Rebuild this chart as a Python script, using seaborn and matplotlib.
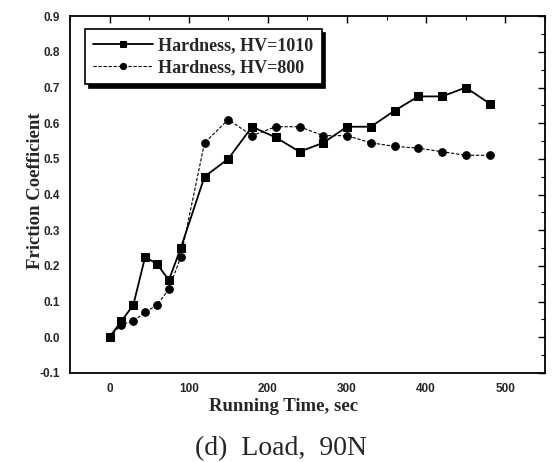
import matplotlib
matplotlib.use("Agg")
import matplotlib.pyplot as plt
import seaborn as sns
import pandas as pd
from matplotlib.ticker import MultipleLocator

# --- data ---
tiempo = [0, 15, 30, 45, 60, 75, 90, 120, 150, 180, 210, 240, 270, 300, 330, 360, 390, 420, 450, 480]
hv1010 = [0.0, 0.045, 0.09, 0.225, 0.205, 0.16, 0.25, 0.45, 0.50, 0.59, 0.56, 0.52, 0.545, 0.59, 0.59, 0.635, 0.675, 0.675, 0.70, 0.655]
hv800 = [0.0, 0.035, 0.045, 0.07, 0.09, 0.135, 0.225, 0.545, 0.61, 0.565, 0.59, 0.59, 0.565, 0.565, 0.545, 0.535, 0.53, 0.52, 0.51, 0.51]

df = pd.DataFrame({"t": tiempo, "a": hv1010, "b": hv800})

sns.set_style("white")
fig = plt.figure(figsize=(5.55, 4.62), dpi=100)
ax = fig.add_axes([0.126, 0.193, 0.856, 0.772])

sns.lineplot(data=df, x="t", y="a", ax=ax, color="black", lw=1.3, marker="s",
             markersize=6, markeredgecolor="black", label="Hardness, HV=1010")
sns.lineplot(data=df, x="t", y="b", ax=ax, color="black", lw=0.8, linestyle=(0, (3, 1.5)),
             marker="o", markersize=5.5, markeredgecolor="black", label="Hardness, HV=800")

ax.set_xlim(-50, 550)
ax.set_ylim(-0.1, 0.9)
ax.xaxis.set_major_locator(MultipleLocator(100))
ax.xaxis.set_minor_locator(MultipleLocator(50))
ax.yaxis.set_major_locator(MultipleLocator(0.1))
ax.yaxis.set_minor_locator(MultipleLocator(0.05))
ax.tick_params(which="both", direction="in", top=True, right=True, color="black")
ax.tick_params(which="major", length=5, width=1)
ax.tick_params(which="minor", length=3, width=0.8)
ax.tick_params(axis="y", pad=7)
ax.tick_params(axis="x", pad=7)
ax.yaxis.set_major_formatter(matplotlib.ticker.FormatStrFormatter("%.1f"))
for lab in ax.get_xticklabels() + ax.get_yticklabels():
    lab.set_fontfamily("Liberation Sans")
    lab.set_fontweight("bold")
    lab.set_fontsize(8.5)
for s in ax.spines.values():
    s.set_color("black")
    s.set_linewidth(1.3)

ax.set_xlabel("Running Time, sec", fontfamily="Liberation Serif", fontweight="bold", fontsize=13.5, va="center")
ax.xaxis.set_label_coords(0.45, -0.095)
ax.set_ylabel("Friction Coefficient", fontfamily="Liberation Serif", fontweight="bold", fontsize=13.5, va="center")
ax.yaxis.set_label_coords(-0.072, 0.51)

leg = ax.legend(loc="upper left", bbox_to_anchor=(0.032, 0.963), frameon=True, fancybox=False,
                shadow={"ox": 2.5, "oy": -2.5, "color": "black", "alpha": 1},
                prop={"family": "Liberation Serif", "weight": "bold", "size": 13},
                handlelength=3.3, borderpad=0.45, labelspacing=0.25, handletextpad=0.3,
                borderaxespad=0)
leg.get_frame().set_edgecolor("black")
leg.get_frame().set_linewidth(1.2)
for h in leg.legend_handles:
    h.set_markersize(4.5)

fig.text(0.507, 0.03, "(d)  Load,  90N", ha="center", va="center",
         fontfamily="Liberation Serif", fontsize=20)

fig.savefig("out.png", dpi=100)
